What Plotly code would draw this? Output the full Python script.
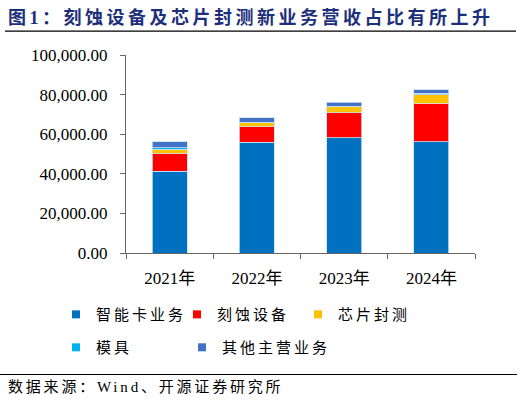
import plotly.graph_objects as go

years = ["2021年", "2022年", "2023年", "2024年"]
smart_card = [41200, 56000, 58200, 56100]
etching = [8900, 7700, 12600, 19200]
packaging = [2400, 2100, 3000, 4550]
molds = [650, 300, 400, 850]
others = [3000, 2300, 2000, 1700]

series = [
    ("智能卡业务", smart_card, "#0070C0", "legend"),
    ("刻蚀设备", etching, "#FF0000", "legend"),
    ("芯片封测", packaging, "#FFC000", "legend"),
    ("模具", molds, "#00B0F0", "legend2"),
    ("其他主营业务", others, "#4472C4", "legend3"),
]

CJK = "Liberation Serif, Noto Sans CJK SC"
SP = "letter-spacing:3px"

fig = go.Figure()
for name, vals, color, lg in series:
    fig.add_trace(go.Bar(
        x=years, y=vals, name=name, marker_color=color,
        marker_line=dict(color="rgba(200,225,245,0.8)", width=1),
        showlegend=False,
    ))
for name, vals, color, lg in series:
    fig.add_trace(go.Scatter(
        x=[None], y=[None], mode="markers",
        name=f'<span style="{SP}">{name}</span>',
        marker=dict(symbol="square", size=8, color=color),
        legend=lg, showlegend=True,
    ))

L, T, W, H = 126, 55, 349, 198.3


def px(xp):
    return (xp - L) / W


def py(yp):
    return (T + H - yp) / H


def leg(x, y, ew):
    return dict(
        orientation="h", xanchor="left", yanchor="middle", x=px(x), y=py(y),
        entrywidth=ew, entrywidthmode="pixels", traceorder="normal",
        font=dict(family=CJK, size=15, color="#000000"),
        bgcolor="rgba(0,0,0,0)",
    )


AX = "#666666"

fig.update_layout(
    width=522, height=405,
    margin=dict(l=L, r=522 - L - W, t=T, b=405 - T - H),
    barmode="stack", bargap=0.6,
    plot_bgcolor="white", paper_bgcolor="white",
    font=dict(family=CJK, size=17, color="#000000"),
    xaxis=dict(
        showline=True, linecolor=AX, linewidth=1,
        ticks="outside", tickson="boundaries", ticklen=5, tickcolor=AX,
        ticklabelstandoff=10,
        tickfont=dict(family=CJK, size=17, color="#000000"),
        fixedrange=True,
    ),
    yaxis=dict(
        range=[0, 100000], dtick=20000, tickformat=",.2f",
        showline=True, linecolor=AX, linewidth=1,
        ticks="outside", ticklen=5, tickcolor=AX,
        ticklabelstandoff=9,
        showgrid=False, zeroline=False,
        tickfont=dict(family="Liberation Serif", size=17, color="#000000"),
        fixedrange=True,
    ),
    legend=leg(56, 315, 76),
    legend2=leg(56, 348, 76),
    legend3=leg(182, 348, 150),
    shapes=[
        dict(type="line", xref="paper", yref="paper",
             x0=px(5), x1=px(516), y0=py(31), y1=py(31),
             line=dict(color="#000000", width=1.2)),
        dict(type="line", xref="paper", yref="paper",
             x0=px(0), x1=px(517), y0=py(375), y1=py(375),
             line=dict(color="#000000", width=1.2)),
    ],
    annotations=[
        dict(xref="paper", yref="paper", x=px(6), y=py(17), xanchor="left", yanchor="middle",
             showarrow=False,
             text='<span style="letter-spacing:3.5px"><b>图1：刻蚀设备及芯片封测新业务营收占比有所上升</b></span>',
             font=dict(family="Liberation Serif, Noto Sans CJK SC", size=18, color="#1c2f7a")),
        dict(xref="paper", yref="paper", x=px(6), y=py(388), xanchor="left", yanchor="middle",
             showarrow=False,
             text='<span style="letter-spacing:2.8px">数据来源：Wind、开源证券研究所</span>',
             font=dict(family=CJK, size=15, color="#000000")),
    ],
)

fig.write_html("out.html", config={"displayModeBar": False},
               post_script="document.body.style.margin='0';")
